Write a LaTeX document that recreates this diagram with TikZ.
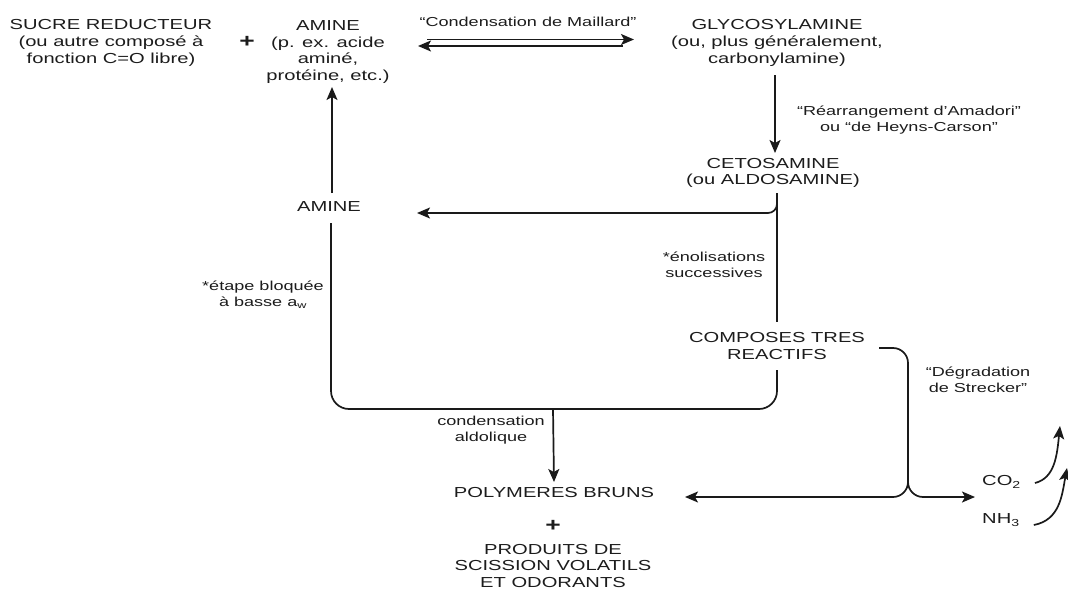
\documentclass[tikz,border=0pt]{standalone}
\usepackage{fontspec}
\setmainfont{Liberation Sans}[FakeStretch=1.39]
\usetikzlibrary{arrows.meta}
\definecolor{txtc}{HTML}{1C1C1C}
\definecolor{linec}{HTML}{1A1A1A}
\begin{document}
\begin{tikzpicture}[x=1pt,y=-1pt,
  every node/.style={text=txtc, inner sep=0pt, align=center},
  main/.style={font=\fontsize{14.5}{16.6}\selectfont},
  lbl/.style={font=\fontsize{13}{15.8}\selectfont},
  plus/.style={font=\fontsize{19}{19}\selectfont\bfseries},
  ln/.style={line width=1.7pt, draw=linec},
  arr/.style={ln, -{Stealth[length=13pt,width=11pt,inset=3pt]}},
]
\useasboundingbox (0,0) rectangle (1068,589);
\clip (0,0) rectangle (1068,589);

% nodes
\node[main] (sucre) at (111,43) {SUCRE REDUCTEUR\\(ou autre composé à\\fonction C=O libre)};
\node[plus] (plusA) at (247,42) {+};
\node[main] (amineA) at (328,52) {AMINE\\(p. ex. acide\\aminé,\\protéine, etc.)};
\node[lbl] (maillard) at (528,22) {“Condensation de Maillard”};
\node[main] (glyco) at (777,43) {GLYCOSYLAMINE\\(ou, plus généralement,\\carbonylamine)};
\node[lbl] (amadori) at (909,120) {“Réarrangement d’Amadori”\\ou “de Heyns-Carson”};
\node[main] (ceto) at (773,173) {CETOSAMINE\\(ou ALDOSAMINE)};
\node[main] (amineB) at (329,207) {AMINE};
\node[lbl] (enol) at (714,265) {*énolisations\\successives};
\node[lbl] (etape) at (263,295) {*étape bloquée\\à basse a\textsubscript{w}};
\node[main] (compo) at (777,346) {COMPOSES TRES\\REACTIFS};
\node[lbl] (strecker) at (978,380) {“Dégradation\\de Strecker”};
\node[lbl] (aldol) at (491,430) {condensation\\aldolique};
\node[main] (polym) at (554,493) {POLYMERES BRUNS};
\node[plus] (plusB) at (553,526) {+};
\node[main] (produits) at (553,566) {PRODUITS DE\\SCISSION VOLATILS\\ET ODORANTS};
\node[main, anchor=west] (co2) at (982,482) {CO\textsubscript{2}};
\node[main, anchor=west] (nh3) at (982,520) {NH\textsubscript{3}};

% coordinates
\coordinate (mA1) at (427,39.5);
\coordinate (mA2) at (634,39.5);
\coordinate (mB1) at (623,46);
\coordinate (mB2) at (418,46);

% connectors
\draw[arr] (mA1) -- (mA2);
\draw[arr] (mB1) -- (mB2);
\draw[arr] (glyco.south |- 0,75) ++(-2,0) -- (775,153);
\draw[ln] (777,193) -- (compo.north |- 0,322);
\draw[arr, rounded corners=9pt] (777,198) |- (417,213);
\draw[arr] (amineB.north |- 0,193) ++(3,0) -- (332,87);
\draw[ln, rounded corners=18pt] (331,223) |- (777,409) -- (777,370);
\draw[arr] (553,409) -- (polym.north |- 0,482);
\draw[arr, rounded corners=15pt] (compo.east |- 0,348) ++(14,0) -| (908,497) -- (685,497);
\draw[arr, rounded corners=15pt] (908,470) |- (975,497);
\draw[arr] (co2.east) ++(14,1) .. controls (1055,478) and (1057,455) .. (1060,426);
\draw[arr] (nh3.east) ++(14,5) .. controls (1060,520) and (1062,495) .. (1067,468);
\end{tikzpicture}
\end{document}
